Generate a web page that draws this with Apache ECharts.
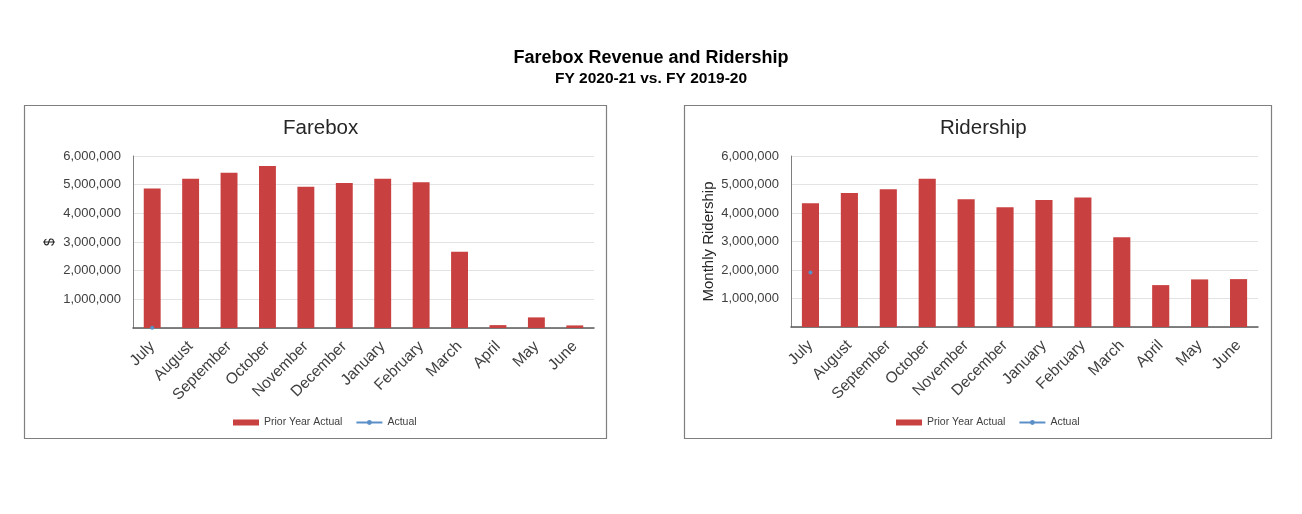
<!DOCTYPE html>
<html>
<head>
<meta charset="utf-8">
<script src="https://cdn.jsdelivr.net/npm/echarts@6/dist/echarts.min.js"></script>
<style>
html,body{margin:0;padding:0;background:#fff;}
#c{width:1302px;height:514px;}
</style>
</head>
<body>
<div id="c"></div>
<script>
const months = ['July','August','September','October','November','December','January','February','March','April','May','June'];
const fareboxPrior = [4870000,5210000,5420000,5650000,4930000,5060000,5210000,5080000,2660000,100000,370000,90000];
const fareboxActual = [10000,null,null,null,null,null,null,null,null,null,null,null];
const riderPrior = [4340000,4700000,4830000,5200000,4480000,4200000,4460000,4540000,3150000,1470000,1670000,1680000];
const riderActual = [1910000,null,null,null,null,null,null,null,null,null,null,null];
const yTicks = [0,1000000,2000000,3000000,4000000,5000000,6000000];

const BAR = '#C8403F';
const LINE = '#5B8FC8';
const FONT = 'Liberation Sans, Arial, sans-serif';

const chart = echarts.init(document.getElementById('c'));

function yAxis(idx, name){
  return {
    gridIndex: idx, type:'value', min: yTicks[0], max: yTicks[yTicks.length-1], interval: yTicks[1]-yTicks[0],
    name: name, nameLocation:'middle', nameRotate: 90,
    nameGap: idx===0 ? 76 : 75,
    nameTextStyle:{fontFamily:FONT, fontSize: idx===0?14:15, color:'#262626'},
    axisLine:{show:true, lineStyle:{color:'#7f7f7f', width:1}},
    axisTick:{show:false},
    splitLine:{lineStyle:{color:'#e3e3e3', width:1}},
    axisLabel:{fontFamily:FONT, fontSize:13, color:'#404040', margin:12,
      formatter: v => v===0 ? '' : v.toLocaleString('en-US')}
  };
}
function xAxis(idx){
  return {
    gridIndex: idx, type:'category', data: months,
    axisLine:{lineStyle:{color:'#595959', width:1.5}},
    axisTick:{show:false},
    axisLabel:{fontFamily:FONT, fontSize:15.5, color:'#404040', rotate:45, interval:0, margin:16}
  };
}
function legend(cx){
  return {
    left: cx, top: 412, itemWidth: 26, itemHeight: 6, itemGap: 13,
    textStyle:{fontFamily:FONT, fontSize:10.5, color:'#404040'},
    data:[{name:'Prior Year Actual', icon:'rect'},{name:'Actual'}]
  };
}

const option = {
  backgroundColor:'#fff',
  animation:false,
  title:[
    {text:'Farebox Revenue and Ridership', left:'center', top:44,
      textStyle:{fontFamily:FONT, fontSize:18, fontWeight:'bold', color:'#000'}},
    {text:'FY 2020-21 vs. FY 2019-20', left:'center', top:66,
      textStyle:{fontFamily:FONT, fontSize:15.5, fontWeight:'bold', color:'#000'}},
    {text:'Farebox', left:278, top:113,
      textStyle:{fontFamily:FONT, fontSize:20.5, fontWeight:'normal', color:'#262626'}},
    {text:'Ridership', left:935, top:113,
      textStyle:{fontFamily:FONT, fontSize:20.5, fontWeight:'normal', color:'#262626'}}
  ],
  graphic:[
    {type:'rect', shape:{x:24.5,y:105.5,width:582,height:333}, style:{fill:'none', stroke:'#7f7f7f', lineWidth:1.2}, silent:true},
    {type:'rect', shape:{x:684.5,y:105.5,width:587,height:333}, style:{fill:'none', stroke:'#7f7f7f', lineWidth:1.2}, silent:true}
  ],
  legend:[legend(228), legend(891)],
  grid:[
    {left:133, top:156, width:461, height:172},
    {left:791, top:156, width:467, height:171}
  ],
  xAxis:[xAxis(0), xAxis(1)],
  yAxis:[yAxis(0,'$'), yAxis(1,'Monthly Ridership')],
  series:[
    {name:'Prior Year Actual', type:'bar', xAxisIndex:0, yAxisIndex:0, data: fareboxPrior,
      barWidth:'44%', itemStyle:{color:BAR}},
    {name:'Actual', type:'line', xAxisIndex:0, yAxisIndex:0, data: fareboxActual,
      symbol:'circle', symbolSize:4, showSymbol:true, itemStyle:{color:LINE}, lineStyle:{color:LINE, width:2}},
    {name:'Prior Year Actual', type:'bar', xAxisIndex:1, yAxisIndex:1, data: riderPrior,
      barWidth:'44%', itemStyle:{color:BAR}},
    {name:'Actual', type:'line', xAxisIndex:1, yAxisIndex:1, data: riderActual,
      symbol:'circle', symbolSize:4, showSymbol:true, itemStyle:{color:LINE}, lineStyle:{color:LINE, width:2}}
  ]
};
chart.setOption(option);
</script>
</body>
</html>
